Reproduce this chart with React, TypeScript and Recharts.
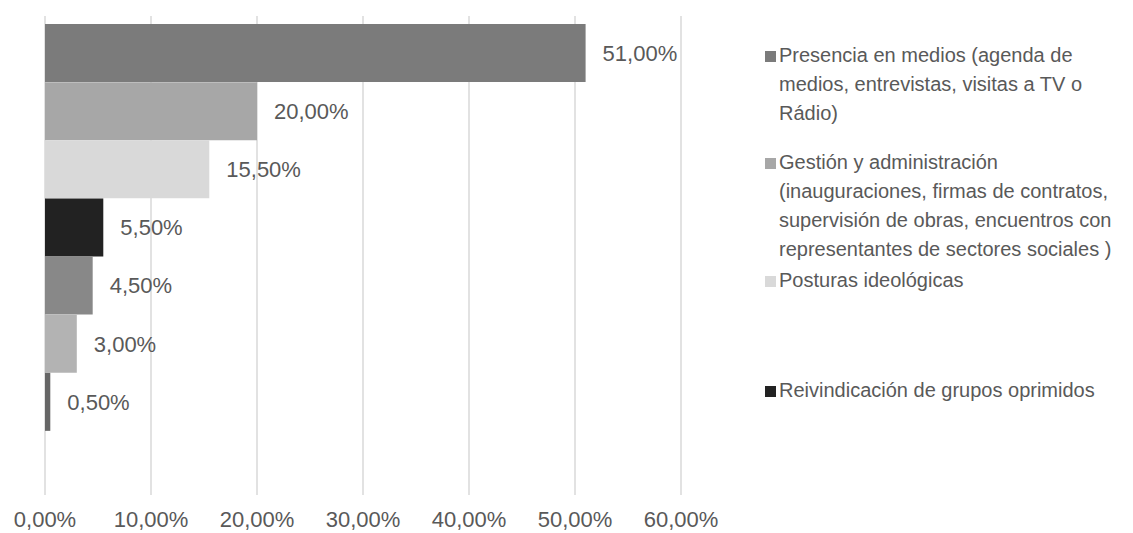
import { BarChart, Bar, XAxis, YAxis, CartesianGrid, Cell, LabelList } from "recharts";

// one row per bar, top to bottom
const categories = [
  "Presencia en medios (agenda de\nmedios, entrevistas, visitas a TV o\nRádio)",
  "Gestión y administración\n(inauguraciones, firmas de contratos,\nsupervisión de obras, encuentros con\nrepresentantes de sectores sociales )",
  "Posturas ideológicas",
  "Reivindicación de grupos oprimidos",
  "Otros temas",
  "Otros asuntos",
  "Sin clasificar",
];
const values = [51, 20, 15.5, 5.5, 4.5, 3, 0.5];
const colors = ["#7b7b7b", "#a7a7a7", "#d9d9d9", "#222222", "#888888", "#b3b3b3", "#666666"];
const xTicks = [0, 10, 20, 30, 40, 50, 60];

// only the first four legend entries are visible in the picture
const legendCount = 4;
const legendTops = [41, 148, 266, 376];

const data = categories.map((name, i) => ({ name, value: values[i] }));

const pct = (v: any) => Number(v).toFixed(2).replace(".", ",") + "%";

const textColor = "#595959";
const font = "'Liberation Sans', Arial, sans-serif";

export default function App() {
  return (
    <div style={{ position: "absolute", left: 0, top: 0, width: 1133, height: 533, background: "#fff", fontFamily: font }}>
      <BarChart
        width={740}
        height={533}
        data={data}
        layout="vertical"
        barCategoryGap={0}
        margin={{ top: 16, right: 59, bottom: 0, left: 45 }}
      >
        <CartesianGrid horizontal={false} stroke="#d9d9d9" strokeWidth={1.5} />
        <XAxis
          type="number"
          domain={[0, 60]}
          ticks={xTicks}
          tickFormatter={pct}
          axisLine={false}
          tickLine={false}
          tickMargin={10}
          height={38}
          interval={0}
          tick={{ fill: textColor, fontSize: 22, fontFamily: font }}
        />
        <YAxis type="category" dataKey="name" hide padding={{ top: 8, bottom: 64 }} />
        <Bar dataKey="value" isAnimationActive={false}>
          {data.map((d, i) => (
            <Cell key={i} fill={colors[i]} />
          ))}
          <LabelList
            dataKey="value"
            position="right"
            offset={17}
            formatter={pct}
            style={{ fill: textColor, fontSize: 22, fontFamily: font }}
          />
        </Bar>
      </BarChart>

      {/* legend drawn by hand, Excel cut it off after four entries */}
      {categories.slice(0, legendCount).map((name, i) => (
        <div
          key={i}
          style={{
            position: "absolute",
            left: 765,
            top: legendTops[i],
            display: "flex",
            alignItems: "flex-start",
            fontSize: 20,
            lineHeight: "29px",
            color: textColor,
            whiteSpace: "pre-line",
          }}
        >
          <span
            style={{
              display: "inline-block",
              width: 11,
              height: 11,
              background: colors[i],
              marginTop: 10,
              marginRight: 3,
              flex: "none",
            }}
          />
          <span>{name}</span>
        </div>
      ))}
    </div>
  );
}
